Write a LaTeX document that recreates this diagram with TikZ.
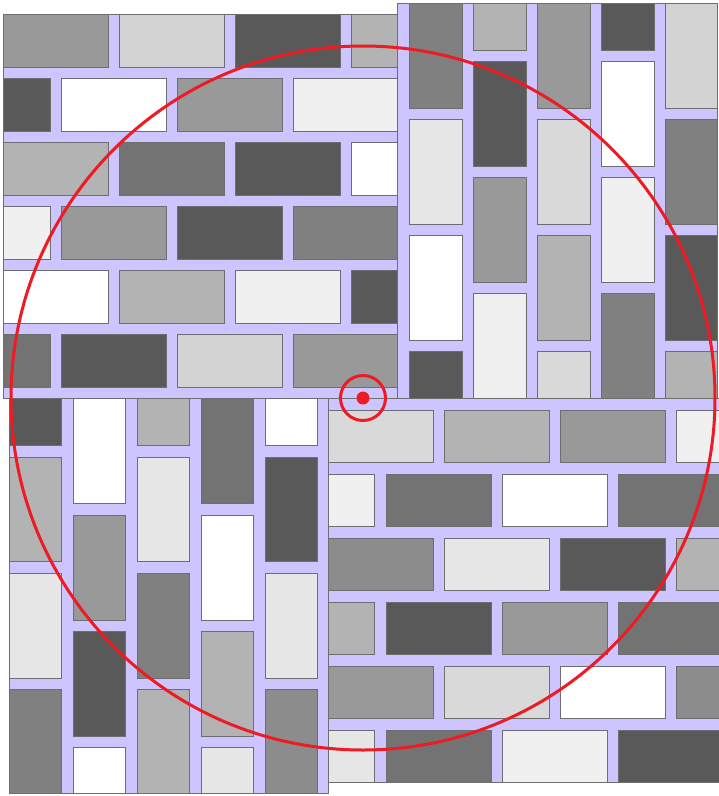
\documentclass[tikz,border=0pt]{standalone}
\definecolor{mortar}{RGB}{204,197,255}
\definecolor{edge}{HTML}{6E6E6E}
\definecolor{redc}{RGB}{237,28,36}
\definecolor{gW}{HTML}{FFFFFF}
\definecolor{gF}{HTML}{F0F0F0}
\definecolor{gE}{HTML}{E6E6E6}
\definecolor{gD}{HTML}{D9D9D9}
\definecolor{gC}{HTML}{D3D3D3}
\definecolor{gB}{HTML}{B3B3B3}
\definecolor{g9}{HTML}{999999}
\definecolor{g8}{HTML}{8C8C8C}
\definecolor{g7}{HTML}{808080}
\definecolor{g6}{HTML}{737373}
\definecolor{g5}{HTML}{595959}
\newcommand\bk[5]{\filldraw[brick,fill=#5] (#1,#2) rectangle (#3,#4);}
\begin{document}
\begin{tikzpicture}[x=1pt,y=-1pt,
  brick/.style={draw=edge,line width=0.8pt},
  panel/.style={fill=mortar,draw=edge,line width=0.8pt},
  ring/.style={draw=redc,line width=3pt}]
\useasboundingbox (0,0) rectangle (719,796);
% Panel A (top-left, horizontal)
\filldraw[panel] (3,14) rectangle (397,398);
\foreach \ya/\yb/\ca/\cb/\cc/\cd in {14/67/g9/gC/g5/gB, 142/195/gB/g6/g5/gW, 270/323/gW/gB/gF/g5}{
  \bk{3}{\ya}{108}{\yb}{\ca}\bk{119}{\ya}{224}{\yb}{\cb}\bk{235}{\ya}{340}{\yb}{\cc}\bk{351}{\ya}{397}{\yb}{\cd}}
\foreach \ya/\yb/\ca/\cb/\cc/\cd in {78/131/g5/gW/g9/gF, 206/259/gF/g9/g5/g7, 334/387/g6/g5/gC/g9}{
  \bk{3}{\ya}{50}{\yb}{\ca}\bk{61}{\ya}{166}{\yb}{\cb}\bk{177}{\ya}{282}{\yb}{\cc}\bk{293}{\ya}{397}{\yb}{\cd}}
% Panel B (top-right, vertical)
\filldraw[panel] (397,3) rectangle (717,398);
\foreach \xa/\xb/\ca/\cb/\cc/\cd in {409/462/g7/gE/gW/g5, 537/590/g9/gD/gB/gD, 665/717/gC/g7/g5/gB}{
  \bk{\xa}{3}{\xb}{108}{\ca}\bk{\xa}{119}{\xb}{224}{\cb}\bk{\xa}{235}{\xb}{340}{\cc}\bk{\xa}{351}{\xb}{398}{\cd}}
\foreach \xa/\xb/\ca/\cb/\cc/\cd in {473/526/gB/g5/g9/gF, 601/654/g5/gW/gF/g7}{
  \bk{\xa}{3}{\xb}{50}{\ca}\bk{\xa}{61}{\xb}{166}{\cb}\bk{\xa}{177}{\xb}{282}{\cc}\bk{\xa}{293}{\xb}{398}{\cd}}
% Panel D (bottom-right, horizontal)
\filldraw[panel] (328,398) rectangle (719,782);
\foreach \ya/\yb/\ca/\cb/\cc/\cd in {410/462/gD/gB/g9/gF, 538/590/g8/gE/g5/gB, 666/718/g9/gD/gW/g8}{
  \bk{328}{\ya}{433}{\yb}{\ca}\bk{444}{\ya}{549}{\yb}{\cb}\bk{560}{\ya}{665}{\yb}{\cc}\bk{676}{\ya}{719}{\yb}{\cd}}
\foreach \ya/\yb/\ca/\cb/\cc/\cd in {474/526/gF/g6/gW/g6, 602/654/gB/g5/g9/g6, 730/782/gE/g6/gF/g5}{
  \bk{328}{\ya}{374}{\yb}{\ca}\bk{386}{\ya}{491}{\yb}{\cb}\bk{502}{\ya}{607}{\yb}{\cc}\bk{618}{\ya}{719}{\yb}{\cd}}
% Panel C (bottom-left, vertical)
\filldraw[panel] (9,398) rectangle (328,793);
\foreach \xa/\xb/\ca/\cb/\cc/\cd in {9/61/g5/gB/gE/g7, 137/189/gB/gE/g7/gB, 265/317/gW/g5/gE/g8}{
  \bk{\xa}{398}{\xb}{445}{\ca}\bk{\xa}{457}{\xb}{561}{\cb}\bk{\xa}{573}{\xb}{678}{\cc}\bk{\xa}{689}{\xb}{793}{\cd}}
\foreach \xa/\xb/\ca/\cb/\cc/\cd in {73/125/gW/g9/g5/gW, 201/253/g6/gW/gB/gE}{
  \bk{\xa}{398}{\xb}{503}{\ca}\bk{\xa}{515}{\xb}{620}{\cb}\bk{\xa}{631}{\xb}{736}{\cc}\bk{\xa}{747}{\xb}{793}{\cd}}
% Red markers
\coordinate (ctr) at (363,398);
\draw[ring] (ctr) circle[radius=352];
\draw[ring] (ctr) circle[radius=22.5];
\fill[redc] (ctr) circle[radius=6.5];
\end{tikzpicture}
\end{document}
